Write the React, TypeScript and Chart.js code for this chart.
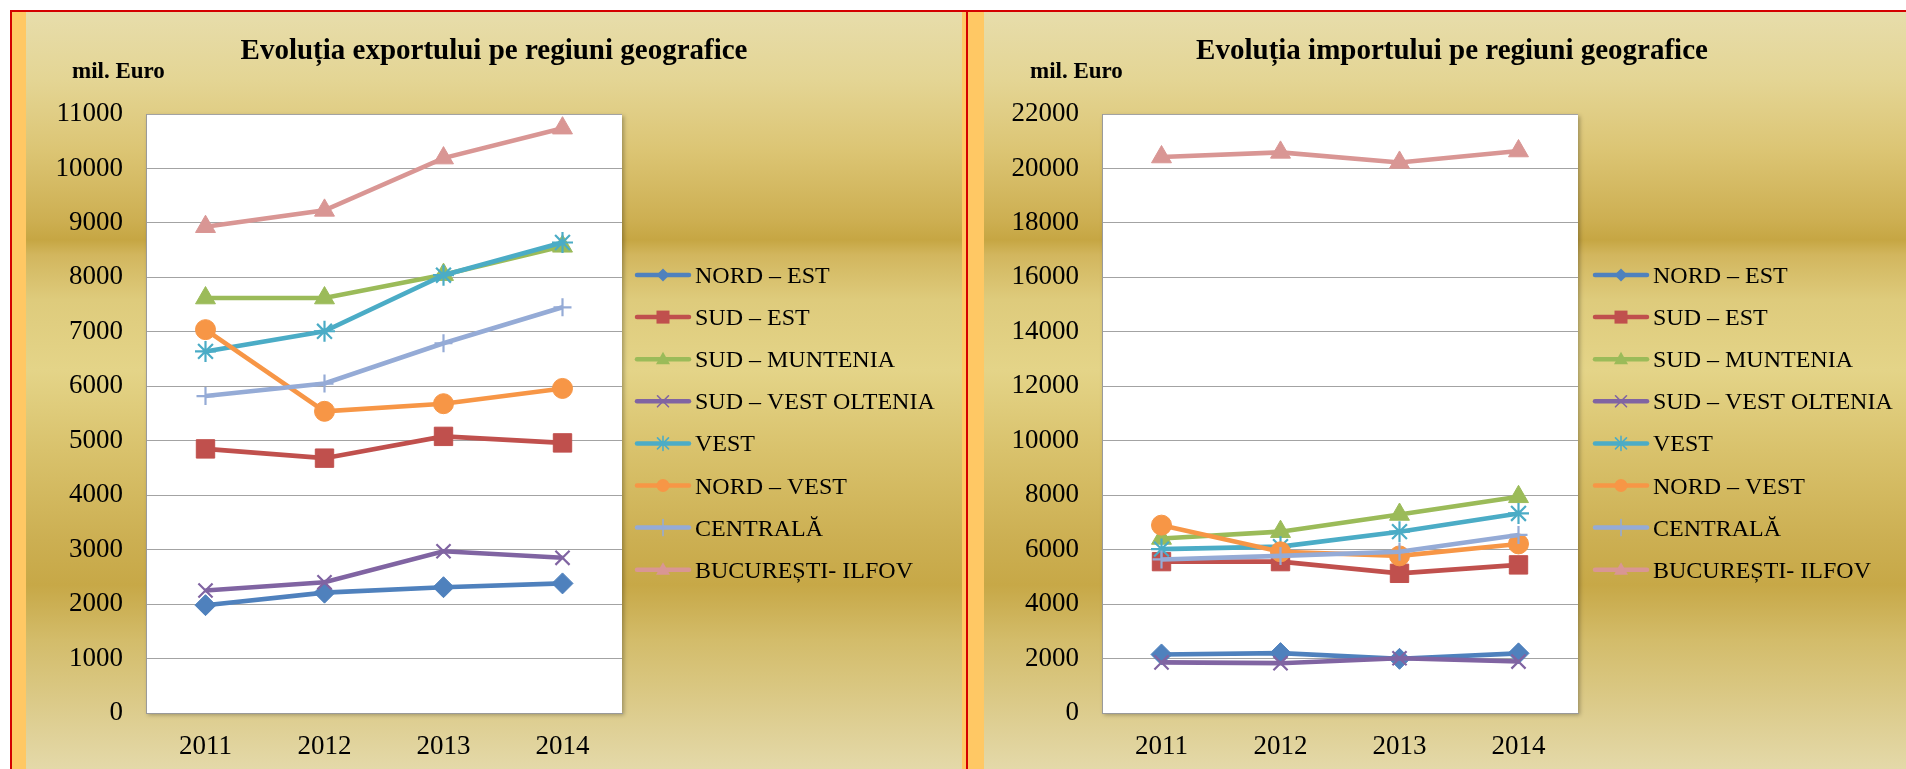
import React, { useEffect, useRef } from 'react';
import { Chart, registerables } from 'chart.js';

Chart.register(...registerables);

// ---------- data ----------
const years = ['2011', '2012', '2013', '2014'];
const regionNames = [
  'NORD – EST',
  'SUD – EST',
  'SUD – MUNTENIA',
  'SUD – VEST OLTENIA',
  'VEST',
  'NORD – VEST',
  'CENTRALĂ',
  'BUCUREȘTI- ILFOV',
];

// Export (mil. Euro)
const expNordEst = [1980, 2210, 2310, 2380];
const expSudEst = [4850, 4680, 5080, 4960];
const expSudMuntenia = [7620, 7620, 8050, 8570];
const expSudVestOltenia = [2250, 2400, 2970, 2850];
const expVest = [6640, 7010, 8040, 8640];
const expNordVest = [7040, 5540, 5680, 5960];
const expCentrala = [5820, 6050, 6790, 7450];
const expBucurestiIlfov = [8930, 9230, 10190, 10740];

// Import (mil. Euro)
const impNordEst = [2150, 2200, 1990, 2190];
const impSudEst = [5560, 5560, 5130, 5440];
const impSudMuntenia = [6410, 6660, 7290, 7940];
const impSudVestOltenia = [1860, 1830, 2010, 1890];
const impVest = [6020, 6110, 6660, 7330];
const impNordVest = [6900, 5920, 5770, 6210];
const impCentrala = [5640, 5770, 5920, 6540];
const impBucurestiIlfov = [20420, 20590, 20220, 20640];

const exportSeries = [expNordEst, expSudEst, expSudMuntenia, expSudVestOltenia, expVest, expNordVest, expCentrala, expBucurestiIlfov];
const importSeries = [impNordEst, impSudEst, impSudMuntenia, impSudVestOltenia, impVest, impNordVest, impCentrala, impBucurestiIlfov];

const exportTitle = 'Evoluția exportului pe regiuni geografice';
const importTitle = 'Evoluția importului pe regiuni geografice';
const unitLabel = 'mil. Euro';

// ---------- styles ----------
const seriesColors = ['#4F81BD', '#C0504D', '#9BBB59', '#8064A2', '#4BACC6', '#F79646', '#95ABD6', '#D99694'];
const pointStyles = ['rectRot', 'rect', 'triangle', 'crossRot', 'star', 'circle', 'cross', 'triangle'];
const pointRadii = [10.5, 13, 11.5, 10, 10.5, 10, 9, 11.5];
const strokeMarkers = ['crossRot', 'star', 'cross'];

const FONT = '"Liberation Serif", "Times New Roman", Times, serif';

function drawLegendMarker(ctx: CanvasRenderingContext2D, style: string, x: number, y: number, color: string) {
  ctx.save();
  ctx.fillStyle = color;
  ctx.strokeStyle = color;
  ctx.lineWidth = 1.6;
  ctx.beginPath();
  switch (style) {
    case 'rectRot':
      ctx.moveTo(x, y - 6.5);
      ctx.lineTo(x + 6.5, y);
      ctx.lineTo(x, y + 6.5);
      ctx.lineTo(x - 6.5, y);
      ctx.closePath();
      ctx.fill();
      break;
    case 'rect':
      ctx.fillRect(x - 6.5, y - 6.5, 13, 13);
      break;
    case 'triangle':
      ctx.moveTo(x, y - 7.5);
      ctx.lineTo(x + 7, y + 5);
      ctx.lineTo(x - 7, y + 5);
      ctx.closePath();
      ctx.fill();
      break;
    case 'circle':
      ctx.arc(x, y, 6.5, 0, Math.PI * 2);
      ctx.fill();
      break;
    case 'crossRot':
      ctx.moveTo(x - 5.5, y - 5.5);
      ctx.lineTo(x + 5.5, y + 5.5);
      ctx.moveTo(x + 5.5, y - 5.5);
      ctx.lineTo(x - 5.5, y + 5.5);
      ctx.stroke();
      break;
    case 'star':
      ctx.moveTo(x - 5.5, y - 5.5);
      ctx.lineTo(x + 5.5, y + 5.5);
      ctx.moveTo(x + 5.5, y - 5.5);
      ctx.lineTo(x - 5.5, y + 5.5);
      ctx.moveTo(x, y - 7);
      ctx.lineTo(x, y + 7);
      ctx.stroke();
      break;
    case 'cross':
      ctx.moveTo(x, y - 8);
      ctx.lineTo(x, y + 8);
      ctx.stroke();
      break;
  }
  ctx.restore();
}

const decorPlugin = {
  id: 'panelDecor',
  beforeDraw(chart: any) {
    const { ctx, chartArea: a } = chart;
    ctx.save();
    ctx.shadowColor = 'rgba(0,0,0,0.28)';
    ctx.shadowBlur = 4;
    ctx.shadowOffsetX = 2;
    ctx.shadowOffsetY = 2;
    ctx.fillStyle = '#ffffff';
    ctx.fillRect(a.left, a.top, a.right - a.left, a.bottom - a.top);
    ctx.restore();
  },
  afterDraw(chart: any, _args: any, opts: any) {
    const { ctx } = chart;
    ctx.save();
    ctx.fillStyle = '#000';
    ctx.textBaseline = 'alphabetic';
    ctx.font = `bold 29px ${FONT}`;
    ctx.textAlign = 'center';
    ctx.fillText(opts.title, chart.width / 2, 47);
    ctx.font = `bold 23px ${FONT}`;
    ctx.textAlign = 'left';
    ctx.fillText(unitLabel, 46, 66);

    chart.data.datasets.forEach((ds: any, i: number) => {
      const y = 263 + i * 42.1;
      ctx.strokeStyle = ds.borderColor;
      ctx.lineWidth = 4.5;
      ctx.lineCap = 'round';
      ctx.beginPath();
      ctx.moveTo(611, y);
      ctx.lineTo(663, y);
      ctx.stroke();
      drawLegendMarker(ctx, pointStyles[i], 637, y, seriesColors[i]);
      ctx.fillStyle = '#000';
      ctx.font = `24px ${FONT}`;
      ctx.textAlign = 'left';
      ctx.fillText(ds.label, 669, y + 8);
    });
    ctx.restore();
  },
};

type PanelProps = {
  title: string;
  series: number[][];
  yMax: number;
  yStep: number;
  yAxisWidth: number;
  padRight: number;
  left: number;
};

function Panel({ title, series, yMax, yStep, yAxisWidth, padRight, left }: PanelProps) {
  const ref = useRef<HTMLCanvasElement | null>(null);
  useEffect(() => {
    if (!ref.current) return;
    const datasets = series.map((data, i) => {
      const isStroke = strokeMarkers.includes(pointStyles[i]);
      return {
        label: regionNames[i],
        data,
        borderColor: seriesColors[i],
        backgroundColor: seriesColors[i],
        borderWidth: 4.6,
        tension: 0,
        pointStyle: pointStyles[i],
        pointRadius: pointRadii[i],
        pointHoverRadius: pointRadii[i],
        pointBackgroundColor: seriesColors[i],
        pointBorderColor: seriesColors[i],
        pointBorderWidth: isStroke ? 2.2 : 1,
        order: -i,
      };
    });
    const tickFont = { family: FONT, size: 27 };
    const chart = new Chart(ref.current, {
      type: 'line',
      data: { labels: years, datasets },
      plugins: [decorPlugin],
      options: {
        animation: false,
        responsive: false,
        devicePixelRatio: 1,
        layout: { padding: { top: 102, right: padRight, left: 0, bottom: 0 } },
        plugins: {
          legend: { display: false },
          tooltip: { enabled: false },
          title: { display: false },
          panelDecor: { title },
        } as any,
        scales: {
          x: {
            type: 'category',
            offset: true,
            grid: { display: false, drawTicks: false },
            border: { display: true, color: '#9a9a9a', width: 1 },
            ticks: { color: '#000', font: tickFont, padding: 18, maxRotation: 0 },
            afterFit: (s: any) => { s.height = 56; },
          },
          y: {
            min: 0,
            max: yMax,
            grid: { color: '#a3a3a3', lineWidth: 1, drawTicks: false },
            border: { display: true, color: '#9a9a9a', width: 1 },
            ticks: {
              stepSize: yStep,
              color: '#000',
              font: tickFont,
              padding: 23,
              callback: (v: any) => String(v),
            },
            afterFit: (s: any) => { s.width = yAxisWidth; },
          },
        },
      } as any,
    });
    return () => chart.destroy();
  }, []);
  return (
    <canvas
      ref={ref}
      width={936}
      height={757}
      style={{ position: 'absolute', left, top: 12, width: 936, height: 757 }}
    />
  );
}

const goldGradient = `linear-gradient(to bottom,
  #E7DDAB 0px,
  #E4D594 68px,
  #DCC574 138px,
  #CDAF52 208px,
  #C6A643 228px,
  #D2B65E 243px,
  #DECB7C 288px,
  #E4D488 358px,
  #D9C26C 438px,
  #CCAF52 528px,
  #C7A847 573px,
  #D3BC6A 628px,
  #E4D9A9 757px)`;

export default function App() {
  const red = '#D40000';
  const orange = '#FFC864';
  return (
    <div style={{ position: 'absolute', left: 0, top: 0, width: 1906, height: 769, overflow: 'hidden', background: '#fff' }}>
      <div style={{ position: 'absolute', left: 10, top: 10, width: 1896, height: 2, background: red }} />
      <div style={{ position: 'absolute', left: 10, top: 10, width: 2, height: 759, background: red }} />
      <div style={{ position: 'absolute', left: 12, top: 12, width: 14, height: 757, background: orange }} />
      <div style={{ position: 'absolute', left: 26, top: 12, width: 936, height: 757, background: goldGradient }} />
      <div style={{ position: 'absolute', left: 962, top: 12, width: 22, height: 757, background: orange }} />
      <div style={{ position: 'absolute', left: 966, top: 12, width: 2, height: 757, background: red }} />
      <div style={{ position: 'absolute', left: 984, top: 12, width: 936, height: 757, background: goldGradient }} />
      <Panel title={exportTitle} series={exportSeries} yMax={11000} yStep={1000} yAxisWidth={120} padRight={340} left={26} />
      <Panel title={importTitle} series={importSeries} yMax={22000} yStep={2000} yAxisWidth={118} padRight={342} left={984} />
    </div>
  );
}
